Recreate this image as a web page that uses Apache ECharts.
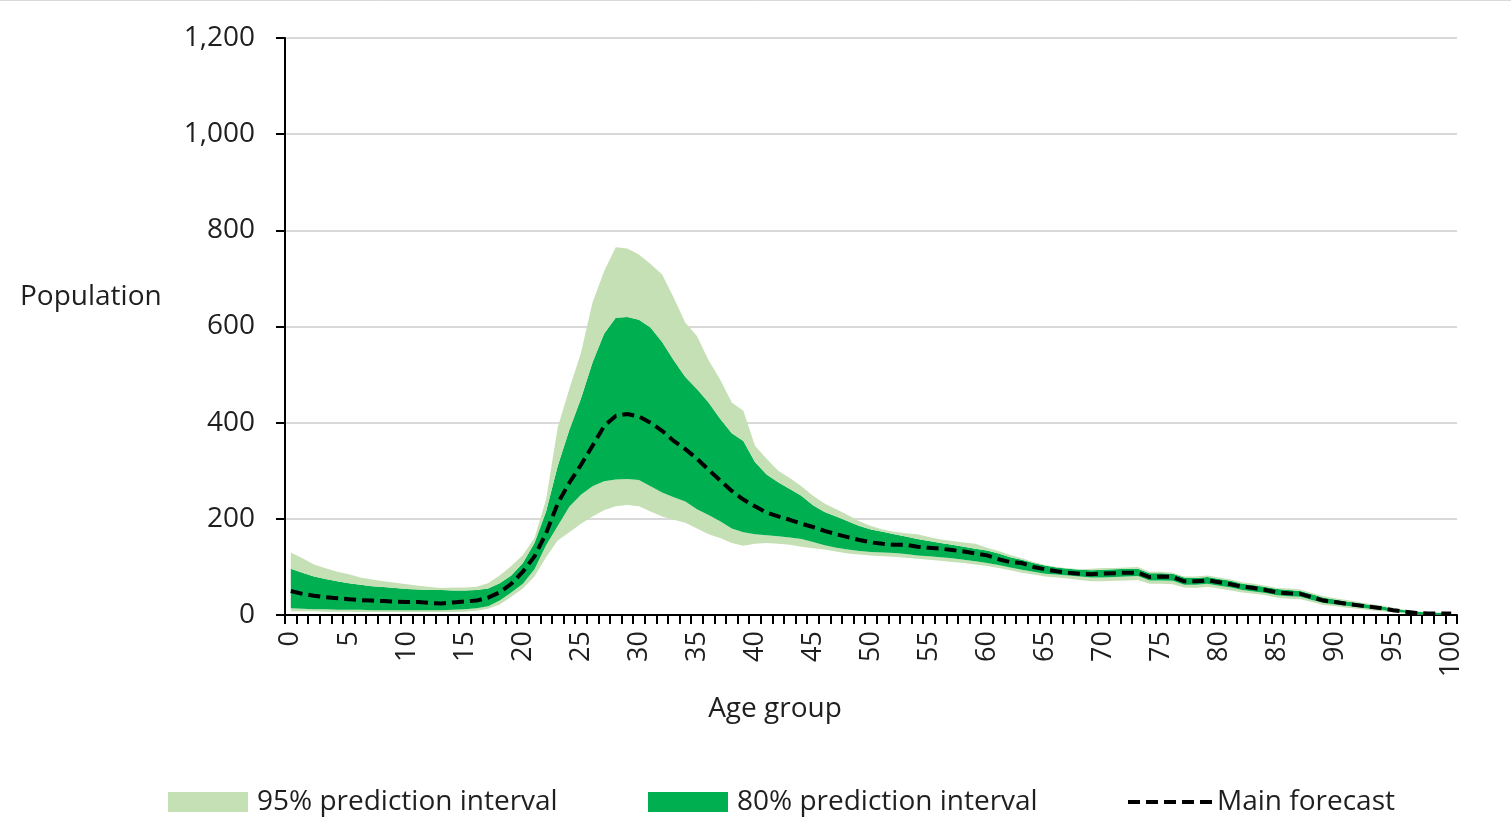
<!DOCTYPE html>
<html>
<head>
<meta charset="utf-8">
<title>Population forecast by age group</title>
<script src="https://cdn.jsdelivr.net/npm/echarts@6/dist/echarts.min.js"></script>
<style>
  html, body { margin: 0; padding: 0; background: #ffffff; }
  #chart { width: 1511px; height: 836px; }
</style>
</head>
<body>
<div id="chart"></div>
<script>
// Single-year age groups 0..100
const ageGroups = Array.from({ length: 101 }, (_, i) => String(i));

// Central projection by age
const mainForecast = [
  50, 44, 40, 37, 35, 33, 31, 30, 29, 28,
  27, 27, 25, 24, 26, 28, 30, 36, 47, 65,
  90, 122, 170, 232, 275, 312, 352, 393, 414, 418,
  413, 400, 383, 362, 345, 325, 302, 280, 258, 240,
  226, 213, 205, 198, 190, 183, 175, 168, 162, 156,
  151, 148, 146, 146, 142, 140, 138, 135, 132, 128,
  124, 116, 110, 108, 100, 95, 91, 88, 86, 85,
  86, 87, 88, 88, 79, 80, 79, 70, 70, 72,
  68, 64, 59, 56, 52, 47, 45, 44, 37, 30,
  27, 23, 20, 17, 14, 10, 7, 4, 3, 3,
  3
];

// 95% prediction interval bounds
const upper95 = [
  130, 118, 105, 97, 90, 85, 78, 74, 70, 67,
  64, 61, 58, 56, 57, 57, 59, 66, 82, 102,
  125, 160, 240, 390, 470, 545, 650, 715, 765, 762,
  750, 730, 708, 660, 608, 580, 530, 490, 442, 425,
  352, 325, 300, 285, 268, 248, 232, 220, 208, 195,
  185, 178, 173, 170, 168, 162, 157, 154, 151, 148,
  140, 133, 125, 118, 110, 104, 100, 97, 95, 96,
  98, 98, 99, 100, 90, 90, 88, 80, 80, 82,
  78, 74, 68, 65, 61, 56, 55, 53, 46, 39,
  35, 31, 27, 23, 20, 15, 11, 8, 6, 5,
  5
];
const lower95 = [
  8, 8, 8, 7, 7, 7, 6, 6, 6, 6,
  6, 6, 6, 6, 6, 7, 9, 13, 22, 38,
  55, 80, 120, 155, 172, 190, 205, 218, 226, 229,
  226, 215, 205, 198, 192, 180, 168, 160, 150, 144,
  148, 150, 148, 146, 142, 139, 136, 132, 128, 126,
  124, 122, 121, 119, 117, 115, 113, 110, 108, 105,
  102, 98, 93, 88, 84, 80, 78, 76, 73, 70,
  70, 71, 72, 73, 65, 65, 64, 57, 56, 59,
  55, 51, 47, 44, 41, 36, 34, 33, 27, 21,
  18, 15, 13, 10, 8, 5, 3, 1, 0, 0,
  0
];

// 80% prediction interval bounds
const upper80 = [
  96, 88, 80, 75, 70, 66, 63, 60, 58, 56,
  54, 53, 52, 52, 51, 51, 52, 55, 66, 82,
  108, 150, 215, 310, 385, 450, 525, 585, 618, 620,
  614, 598, 568, 530, 495, 470, 442, 408, 378, 362,
  318, 292, 276, 262, 248, 228, 214, 205, 195, 185,
  178, 173, 168, 163, 158, 154, 150, 146, 142, 138,
  134, 128, 120, 115, 108, 103, 99, 96, 94, 93,
  94, 95, 96, 96, 87, 87, 86, 78, 77, 79,
  75, 71, 65, 62, 58, 54, 52, 50, 43, 36,
  32, 28, 25, 21, 18, 13, 10, 7, 5, 4,
  4
];
const lower80 = [
  14, 13, 12, 12, 11, 11, 11, 10, 10, 10,
  10, 10, 10, 10, 11, 12, 14, 18, 30, 47,
  65, 95, 145, 185, 225, 250, 268, 278, 282, 283,
  281, 268, 255, 245, 236, 220, 208, 195, 180, 172,
  168, 166, 164, 161, 158, 152, 145, 140, 136, 133,
  131, 130, 129, 127, 124, 122, 120, 118, 115, 112,
  108, 104, 99, 94, 90, 86, 84, 82, 80, 78,
  78, 79, 80, 81, 72, 72, 71, 63, 63, 65,
  61, 57, 52, 49, 46, 41, 39, 38, 31, 25,
  22, 19, 16, 13, 11, 7, 5, 2, 1, 1,
  1
];

// Value axis ticks
const yTicks = [0, 200, 400, 600, 800, 1000, 1200];

const LIGHT_GREEN = '#c5e0b4';
const DARK_GREEN = '#00b050';
const TEXT = '#1f1f1f';
const FONT = '"Open Sans", Lato, sans-serif';
const FONT_SIZE = 28;

// Band thicknesses for the stacked areas (lower95 is the invisible base)
const bandLow = lower80.map((v, i) => v - lower95[i]);
const bandMid = upper80.map((v, i) => v - lower80[i]);
const bandHigh = upper95.map((v, i) => v - upper80[i]);

// Five short dashes used as the legend key of the forecast line
const DASH_ICON = 'path://M0,0h12v4h-12z M18,0h12v4h-12z M36,0h12v4h-12z M54,0h12v4h-12z M72,0h12v4h-12z';

function bandSeries(name, data, color) {
  return {
    name: name,
    type: 'line',
    stack: 'bands',
    data: data,
    symbol: 'none',
    smooth: false,
    lineStyle: { width: 0, opacity: 0 },
    areaStyle: { color: color, opacity: 1 },
    itemStyle: { color: color },
    emphasis: { disabled: true },
    z: 2
  };
}

function legendBox(name, left, extra) {
  return Object.assign({
    data: [name],
    left: left,
    top: 788,
    padding: 0,
    icon: 'rect',
    itemWidth: 80,
    itemHeight: 20,
    selectedMode: false,
    textStyle: { fontFamily: FONT, fontSize: FONT_SIZE, color: TEXT, lineHeight: 20, padding: [0, 0, 0, 4] }
  }, extra || {});
}

const chart = echarts.init(document.getElementById('chart'), null, { renderer: 'canvas' });

chart.setOption({
  animation: false,
  backgroundColor: '#ffffff',
  grid: { left: 285, right: 54, top: 38, bottom: 221, containLabel: false },
  xAxis: {
    type: 'category',
    data: ageGroups,
    boundaryGap: true,
    axisLine: { show: true, lineStyle: { color: '#000000', width: 2 } },
    axisTick: { show: true, interval: 0, length: 9, lineStyle: { color: '#000000', width: 2 } },
    axisLabel: {
      interval: 4,
      rotate: 90,
      margin: 16,
      fontFamily: FONT,
      fontSize: 27,
      color: TEXT
    },
    splitLine: { show: false }
  },
  yAxis: {
    type: 'value',
    min: yTicks[0],
    max: yTicks[yTicks.length - 1],
    interval: 200,
    axisLine: { show: true, lineStyle: { color: '#000000', width: 2 } },
    axisTick: { show: true, length: 9, lineStyle: { color: '#000000', width: 2 } },
    axisLabel: {
      margin: 30,
      fontFamily: FONT,
      fontSize: FONT_SIZE,
      color: TEXT,
      formatter: v => v.toLocaleString('en-US')
    },
    splitLine: { show: true, lineStyle: { color: '#d9d9d9', width: 2 } }
  },
  legend: [
    legendBox('95% prediction interval', 168),
    legendBox('80% prediction interval', 648),
    legendBox('Main forecast', 1128, {
      data: [{ name: 'Main forecast', icon: DASH_ICON }],
      itemWidth: 84,
      itemHeight: 4,
      textStyle: { fontFamily: FONT, fontSize: FONT_SIZE, color: TEXT, lineHeight: 20, padding: [0, 0, 0, 0] }
    })
  ],
  graphic: [
    {
      type: 'line',
      shape: { x1: 0, y1: 0.5, x2: 1511, y2: 0.5 },
      style: { stroke: '#d9d9d9', lineWidth: 1 },
      silent: true
    },
    {
      type: 'text',
      x: 20,
      y: 297,
      style: {
        text: 'Population', font: FONT_SIZE + 'px ' + FONT, fill: TEXT,
        align: 'left', verticalAlign: 'middle'
      },
      silent: true
    },
    {
      type: 'text',
      x: 775,
      y: 709,
      style: {
        text: 'Age group', font: FONT_SIZE + 'px ' + FONT, fill: TEXT,
        align: 'center', verticalAlign: 'middle'
      },
      silent: true
    }
  ],
  series: [
    {
      name: 'base',
      type: 'line',
      stack: 'bands',
      data: lower95,
      symbol: 'none',
      lineStyle: { width: 0, opacity: 0 },
      areaStyle: { opacity: 0 },
      emphasis: { disabled: true },
      z: 2
    },
    bandSeries('95% prediction interval', bandLow, LIGHT_GREEN),
    bandSeries('80% prediction interval', bandMid, DARK_GREEN),
    bandSeries('95% prediction interval', bandHigh, LIGHT_GREEN),
    {
      name: 'Main forecast',
      type: 'line',
      data: mainForecast,
      symbol: 'none',
      smooth: false,
      lineStyle: { color: '#000000', width: 4, type: [12, 6] },
      itemStyle: { color: '#000000' },
      emphasis: { disabled: true },
      z: 5
    }
  ]
});
</script>
</body>
</html>
